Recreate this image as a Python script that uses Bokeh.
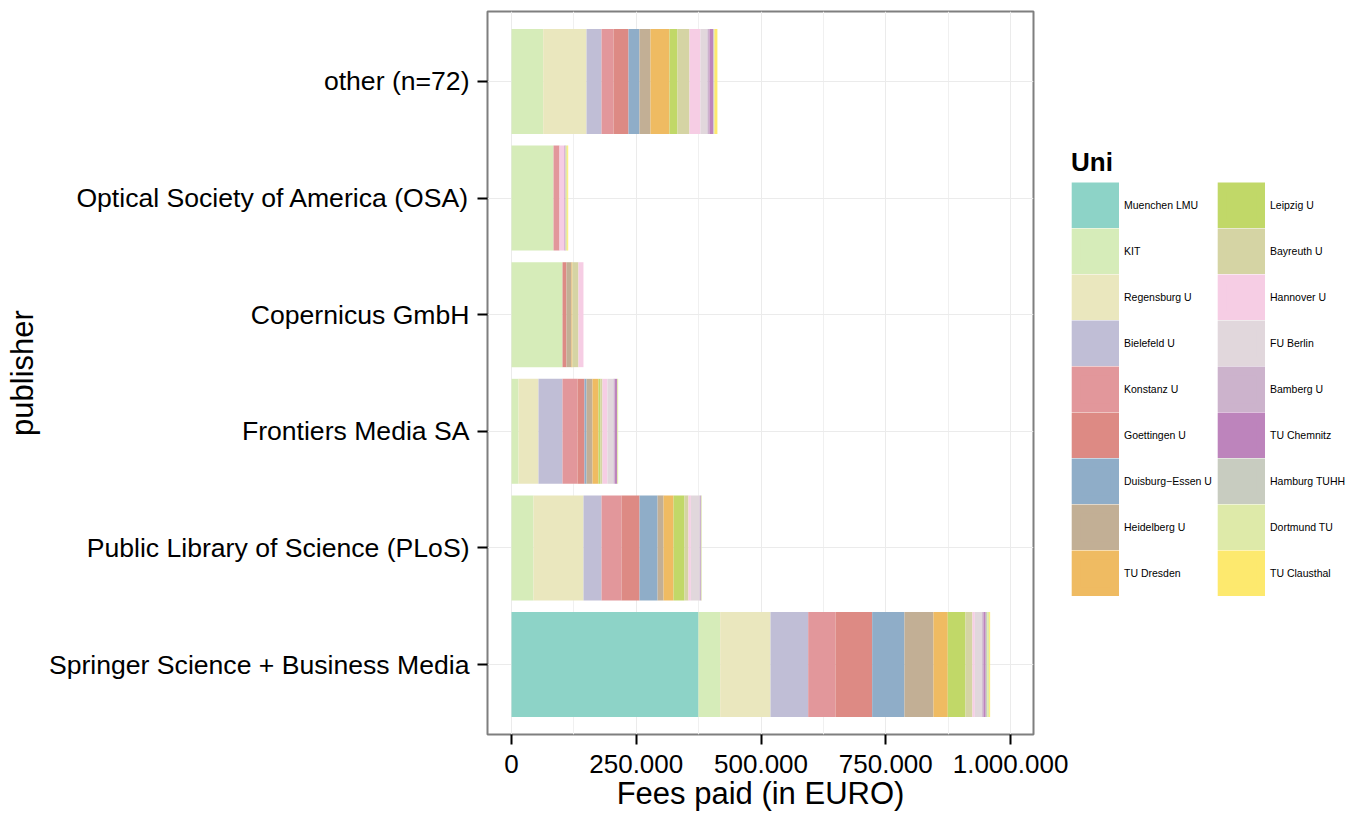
from bokeh.plotting import figure
from bokeh.layouts import row
from bokeh.models import (ColumnDataSource, FactorRange, Range1d, FixedTicker,
                          Legend, LegendItem)
from bokeh.embed import file_html
from bokeh.resources import INLINE

# ---------------- data ----------------
publishers = ["Springer Science + Business Media",
              "Public Library of Science (PLoS)",
              "Frontiers Media SA",
              "Copernicus GmbH",
              "Optical Society of America (OSA)",
              "other (n=72)"]

unis = ["Muenchen LMU", "KIT", "Regensburg U", "Bielefeld U", "Konstanz U",
        "Goettingen U", "Duisburg−Essen U", "Heidelberg U", "TU Dresden",
        "Leipzig U", "Bayreuth U", "Hannover U", "FU Berlin", "Bamberg U",
        "TU Chemnitz", "Hamburg TUHH", "Dortmund TU", "TU Clausthal"]

uni_colors = ["#8DD3C7", "#D6ECB9", "#EAE7BE", "#C0BED6", "#E2979B",
              "#DD8A84", "#8FADC8", "#C2AF95", "#EFBB62", "#C1D868",
              "#D5D4A4", "#F6CDE4", "#E1D7DC", "#CCB3CC", "#BD84BC",
              "#C8CCC0", "#DEEAA9", "#FDE96E"]

# fees per uni, in the order of `publishers`
muenchen_lmu   = [374700,      0,     0,      0,     0,     0]
kit            = [ 43500,  44100, 14000, 102200, 84200, 63500]
regensburg_u   = [100800, 100200, 40100,      0,     0, 86800]
bielefeld_u    = [ 75500,  36100, 48100,      0,     0, 30100]
konstanz_u     = [ 54700,  40100, 30100,      0, 12000, 24000]
goettingen_u   = [ 73500,  36100, 14000,   8000,     0, 30100]
duisburg_essen = [ 64700,  36100,  4000,      0,     0, 22000]
heidelberg_u   = [ 58100,  12000, 12000,  10000,     0, 22000]
tu_dresden     = [ 28700,  20000, 12000,   2000,     0, 38100]
leipzig_u      = [ 35500,  22000,  4000,      0,     0, 16000]
bayreuth_u     = [ 14000,   8000,  4000,  12000,     0, 24000]
hannover_u     = [  4700,   4700, 10000,  10000, 10000, 22000]
fu_berlin      = [ 14700,  17400, 12000,      0,     0, 14000]
bamberg_u      = [  2600,   3400,  2700,      0,     0,  4000]
tu_chemnitz    = [  4600,      0,  4700,      0,  2000,  8000]
hamburg_tuhh   = [  2800,      0,     0,      0,     0,  2000]
dortmund_tu    = [  4000,   1200,  2000,      0,  3400,     0]
tu_clausthal   = [  2000,      0,     0,      0,  2000,  6000]

series = [muenchen_lmu, kit, regensburg_u, bielefeld_u, konstanz_u,
          goettingen_u, duisburg_essen, heidelberg_u, tu_dresden, leipzig_u,
          bayreuth_u, hannover_u, fu_berlin, bamberg_u, tu_chemnitz,
          hamburg_tuhh, dortmund_tu, tu_clausthal]

x_ticks = [0, 250000, 500000, 750000, 1000000]
x_tick_labels = ["0", "250.000", "500.000", "750.000", "1.000.000"]
x_minor = [125000, 375000, 625000, 875000]

# ---------------- main figure ----------------
data = {"publisher": publishers}
for u, s in zip(unis, series):
    data[u] = s
source = ColumnDataSource(data)

font = "Liberation Sans"

p = figure(width=1071, height=813, output_backend="svg", toolbar_location=None,
           x_range=Range1d(-48100, 1046000),
           y_range=FactorRange(factors=publishers, range_padding=0.1,
                               range_padding_units="absolute"),
           min_border_left=487, min_border_top=11, min_border_right=38,
           min_border_bottom=79)

p.hbar_stack(unis, y="publisher", height=0.9, color=uni_colors,
             line_color=None, source=source)

p.background_fill_color = "white"
p.border_fill_color = "white"
p.outline_line_color = "#7F7F7F"
p.outline_line_width = 2

p.xaxis.ticker = FixedTicker(ticks=x_ticks, minor_ticks=x_minor)
p.xaxis.major_label_overrides = {t: l for t, l in zip(x_ticks, x_tick_labels)}
p.xaxis.axis_label = "Fees paid (in EURO)"
p.yaxis.axis_label = "publisher"

for ax in (p.xaxis[0], p.yaxis[0]):
    ax.axis_line_color = None
    ax.major_tick_line_color = "black"
    ax.major_tick_line_width = 2
    ax.major_tick_out = 10
    ax.major_tick_in = 0
    ax.minor_tick_out = 0
    ax.minor_tick_in = 0
    ax.major_label_text_font = font
    ax.major_label_text_color = "black"
    ax.axis_label_text_font = font
    ax.axis_label_text_font_size = "31px"
    ax.axis_label_text_font_style = "normal"
    ax.axis_label_text_color = "black"

p.xaxis.major_label_text_font_size = "26px"
p.yaxis.major_label_text_font_size = "26.6px"
p.xaxis.major_label_standoff = 10
p.xaxis.axis_label_standoff = 0
p.yaxis.major_label_standoff = 8
p.yaxis.axis_label_standoff = 6

p.xgrid.grid_line_color = "#EBEBEB"
p.xgrid.minor_grid_line_color = "#F0F0F0"
p.ygrid.grid_line_color = "#EBEBEB"

# ---------------- legend panel ----------------
lg = figure(width=277, height=813, output_backend="svg", toolbar_location=None,
            x_range=Range1d(0, 1), y_range=Range1d(0, 1),
            min_border_left=0, min_border_right=0, min_border_top=0,
            min_border_bottom=0)
lg.xaxis.visible = False
lg.yaxis.visible = False
lg.xgrid.visible = False
lg.ygrid.visible = False
lg.outline_line_color = None
lg.background_fill_color = "white"
lg.border_fill_color = "white"

items = []
for u, c in zip(unis, uni_colors):
    key = lg.rect(x=[0], y=[0], width=1, height=1, fill_color=c,
                  line_color=c, line_width=9.2, line_join="miter", visible=False)
    items.append(LegendItem(label=u, renderers=[key]))

legend = Legend(items=items, location=(0, 138), ncols=2, orientation="vertical",
                title="Uni", title_text_font=font, title_text_font_size="26px",
                title_text_font_style="bold", title_text_color="black",
                title_standoff=4,
                label_text_font=font, label_text_font_size="10.5px",
                label_text_color="black", label_width=93,
                glyph_width=48, glyph_height=46, label_height=46,
                label_standoff=5, spacing=0, padding=0, margin=0,
                inactive_fill_alpha=0,
                border_line_color=None, background_fill_alpha=0)
lg.add_layout(legend, "center")

layout = row(p, lg, spacing=0)
open("out.html", "w").write(file_html(layout, INLINE))
